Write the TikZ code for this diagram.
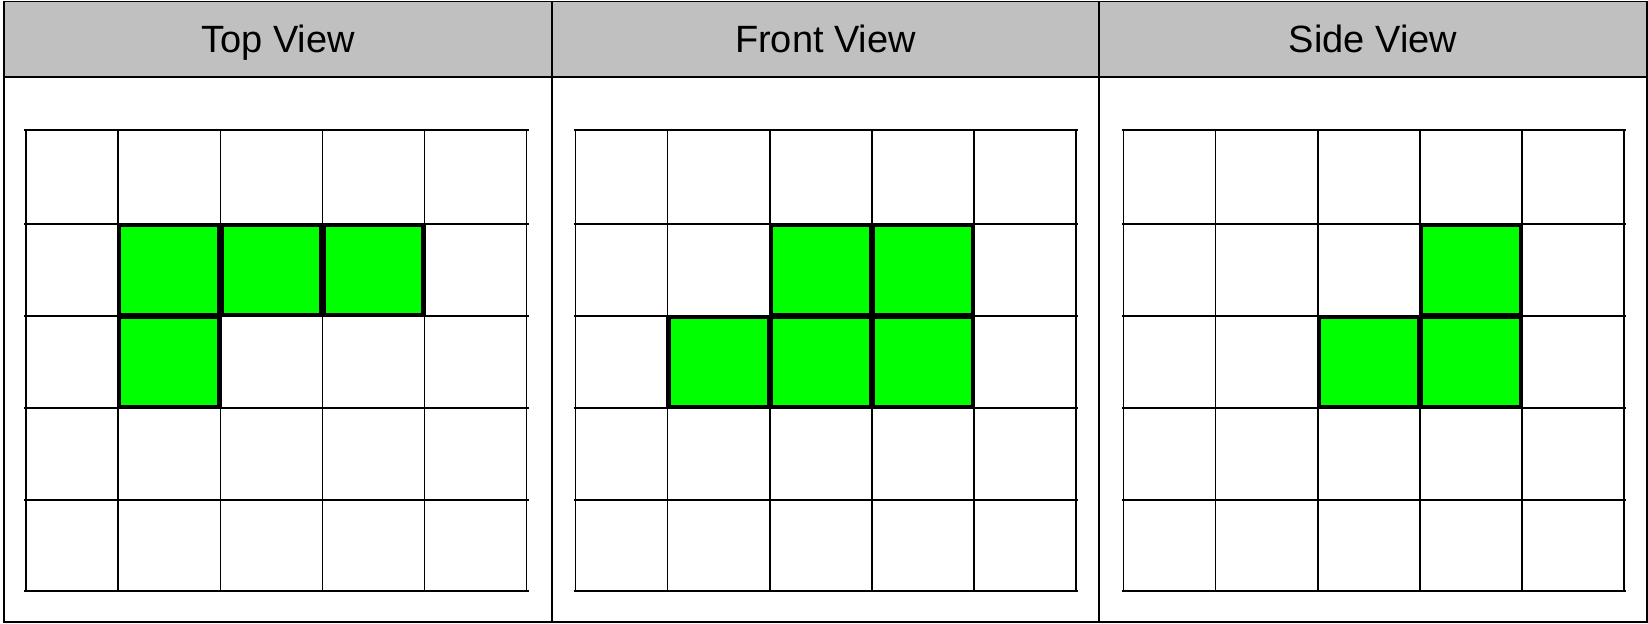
\documentclass[tikz,border=0pt]{standalone}
\usepackage{fontspec}
\setmainfont{Liberation Sans}
\definecolor{headgray}{RGB}{192,192,192}
\definecolor{cubegreen}{RGB}{0,255,0}

\begin{document}
\begin{tikzpicture}[
    x=0.5pt,
    y=-0.5pt,
    frame/.style={line width=0.9pt},
    gridline/.style={line width=0.8pt},
    cube/.style={fill=cubegreen, draw=black, line width=2.1pt},
    heading/.style={font=\fontsize{19}{21}\selectfont, inner sep=0pt, anchor=base}
]
    \useasboundingbox (0,0) rectangle (1648,624);

    % table head and frame
    \fill[headgray] (4,1.5) rectangle (1647,77);
    \draw[frame] (4,1.5) rectangle (1647,622);
    \draw[frame] (4,77) -- (1647,77);
    \draw[frame] (552,1.5) -- (552,622);
    \draw[frame] (1099,1.5) -- (1099,622);

    \node[heading] (top) at (278,53) {Top View};
    \node[heading] (front) at (825.5,53) {Front View};
    \node[heading] (side) at (1373,53) {Side View};

    % grid points
    \foreach \g/\gx in {t/26, f/575.5, s/1123.5} {
        \foreach \c [count=\i] in {0,92,194.5,296.5,398.5,500.5} {
            \foreach \y [count=\j] in {130,224,316,408,500,591} {
                \coordinate (\g-\i-\j) at (\gx+\c,\y);
            }
        }
        \foreach \i in {1,...,6} {
            \draw[gridline] (\g-\i-1) -- (\g-\i-6);
            \draw[gridline] ([xshift=-1pt]\g-1-\i) -- ([xshift=1pt]\g-6-\i);
        }
    }

    % filled cells
    \foreach \g/\i/\j [evaluate=\i as \ii using int(\i+1),
                      evaluate=\j as \jj using int(\j+1)] in
        {t/2/2, t/3/2, t/4/2, t/2/3,
         f/3/2, f/4/2, f/2/3, f/3/3, f/4/3,
         s/4/2, s/3/3, s/4/3} {
        \filldraw[cube] ([shift={(1,1)}]\g-\i-\j) rectangle ([shift={(-1,-1)}]\g-\ii-\jj);
    }
\end{tikzpicture}
\end{document}
